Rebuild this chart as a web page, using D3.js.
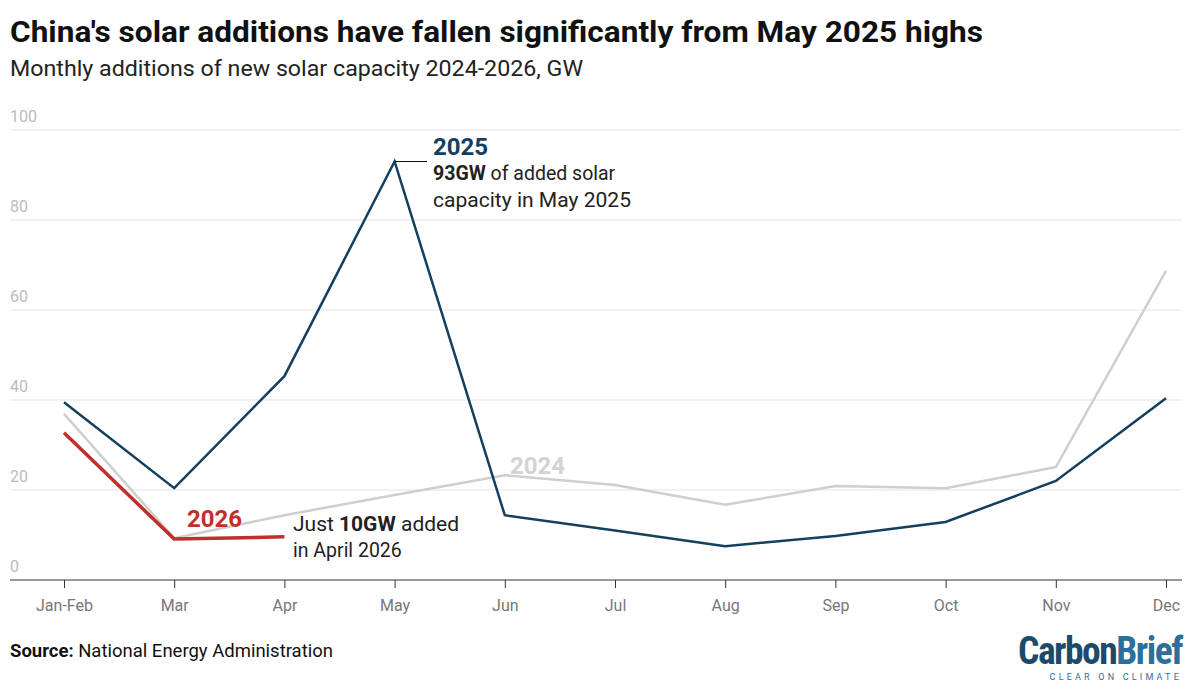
<!DOCTYPE html>
<html><head><meta charset="utf-8">
<script src="https://cdn.jsdelivr.net/npm/d3@7"></script>
<style>
body{margin:0;background:#fff;font-family:Roboto,"Noto Sans",sans-serif}
</style></head>
<body><div id="chart"></div>
<script>
const months = ['Jan-Feb','Mar','Apr','May','Jun','Jul','Aug','Sep','Oct','Nov','Dec']
const s2024 = [36.9, 9.3, 14.4, 18.9, 23.3, 21.1, 16.7, 20.9, 20.4, 25.1, 68.7]
const s2025 = [39.5, 20.4, 45.3, 93, 14.4, 11, 7.5, 9.8, 12.9, 22, 40.4]
const s2026 = [32.7, 9.1, 9.6]
const yTicks = [0, 20, 40, 60, 80, 100]

let width = 1199, height = 700
let svg = d3.select('#chart').append('svg').attr('width', width).attr('height', height)

let x = d3.scalePoint().domain(months).range([64, 1166])
let y = d3.scaleLinear().domain([0, 100]).range([580, 130])

svg.append('text').attr('x', 10).attr('y', 42).attr('font-size', 30).attr('font-weight', 'bold')
    .attr('fill', '#111').attr('textLength', 973).attr('lengthAdjust', 'spacingAndGlyphs')
    .text("China's solar additions have fallen significantly from May 2025 highs")
svg.append('text').attr('x', 10).attr('y', 76).attr('font-size', 22).attr('fill', '#222')
    .attr('textLength', 573).attr('lengthAdjust', 'spacingAndGlyphs')
    .text('Monthly additions of new solar capacity 2024-2026, GW')

// grid
svg.append('g').selectAll('line').data(yTicks.filter(d => d > 0)).enter().append('line')
    .attr('x1', 10).attr('x2', 1182).attr('y1', d => y(d)).attr('y2', d => y(d))
    .attr('stroke', '#e3e3e3')
svg.append('g').selectAll('text').data(yTicks).enter().append('text')
    .attr('x', 10).attr('y', d => y(d) - 8).attr('font-size', 16).attr('fill', '#bbb').text(d => d)

let xAxis = svg.append('g').attr('transform', 'translate(0,580)')
    .call(d3.axisBottom(x).tickSize(8).tickPadding(12))
xAxis.select('.domain').remove()
xAxis.append('line').attr('x1', 10).attr('x2', 1182).attr('stroke', '#333')
xAxis.selectAll('.tick line').attr('stroke', '#333')
xAxis.selectAll('.tick text').attr('font-size', 16).attr('fill', '#777').attr('font-family', 'Roboto')

let line = d3.line().x((d, i) => x(months[i])).y(d => y(d))
svg.append('path').datum(s2024).attr('d', line).attr('fill', 'none').attr('stroke', '#cfcfcf').attr('stroke-width', 2.5)
svg.append('path').datum(s2025).attr('d', line).attr('fill', 'none').attr('stroke', '#13405f').attr('stroke-width', 2.5)
svg.append('path').datum(s2026).attr('d', line).attr('fill', 'none').attr('stroke', '#c0302b').attr('stroke-width', 3.5)

// labels
svg.append('text').attr('x', 433).attr('y', 155).attr('font-size', 24).attr('font-weight', 'bold').attr('fill', '#13405f').text('2025')
svg.append('line').attr('x1', x('May')).attr('x2', 427).attr('y1', y(93)).attr('y2', y(93)).attr('stroke', '#111')
let t1 = svg.append('text').attr('x', 433).attr('y', 180).attr('font-size', 19.5).attr('fill', '#222')
t1.append('tspan').attr('font-weight', 'bold').text('93GW')
t1.append('tspan').text(' of added solar')
svg.append('text').attr('x', 433).attr('y', 207).attr('font-size', 19.5).attr('fill', '#222')
    .attr('textLength', 198).attr('lengthAdjust', 'spacingAndGlyphs').text('capacity in May 2025')

svg.append('text').attr('x', 510).attr('y', 474).attr('font-size', 24).attr('font-weight', 'bold').attr('fill', '#d3d3d3').text('2024')
svg.append('text').attr('x', 187).attr('y', 527).attr('font-size', 24).attr('font-weight', 'bold').attr('fill', '#c0302b').text('2026')
let t2 = svg.append('text').attr('x', 293).attr('y', 531).attr('font-size', 19.5).attr('fill', '#222')
    .attr('textLength', 166).attr('lengthAdjust', 'spacingAndGlyphs')
t2.append('tspan').text('Just ')
t2.append('tspan').attr('font-weight', 'bold').text('10GW')
t2.append('tspan').text(' added')
svg.append('text').attr('x', 293).attr('y', 557).attr('font-size', 19.5).attr('fill', '#222').text('in April 2026')

// footer
let src = svg.append('text').attr('x', 10).attr('y', 657).attr('font-size', 18).attr('fill', '#111')
    .attr('textLength', 323).attr('lengthAdjust', 'spacingAndGlyphs')
src.append('tspan').attr('font-weight', 'bold').text('Source:')
src.append('tspan').text(' National Energy Administration')

let logo = svg.append('text').attr('x', 1182).attr('y', 664).attr('text-anchor', 'end')
    .attr('font-size', 38).attr('font-weight', 'bold').attr('fill', '#1c4a6a')
    .attr('font-family', '"Roboto Condensed","Liberation Sans Narrow",Roboto').attr('letter-spacing', -1.5)
    .attr('textLength', 164).attr('lengthAdjust', 'spacingAndGlyphs')
logo.append('tspan').text('Carbon')
logo.append('tspan').attr('fill', '#2d6f9a').text('Brief')
svg.append('text').attr('x', 1182).attr('y', 680).attr('text-anchor', 'end').attr('font-size', 9)
    .attr('fill', '#2d6f9a').attr('letter-spacing', 3.2).text('CLEAR ON CLIMATE')
</script></body></html>
